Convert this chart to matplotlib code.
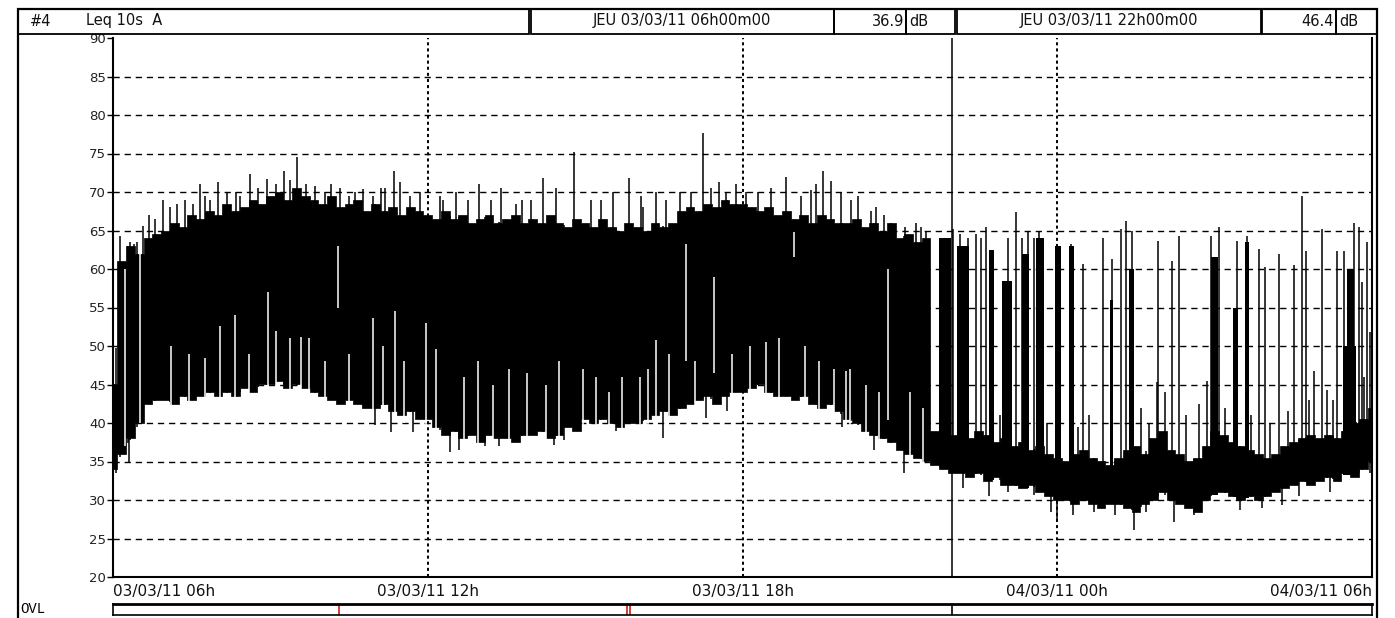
import numpy as np
import matplotlib.pyplot as plt
from matplotlib.patches import Rectangle

plt.rcParams['font.family'] = ['DejaVu Sans']
plt.rcParams['lines.scale_dashes'] = False

# band edges read every 10 min, starting 03/03/11 06h00 (dB)
band_high = [45, 61, 63, 62, 64, 64.5,
             65, 66, 65.5, 67, 66.5, 67.5,
             67, 68.5, 67.5, 68, 69, 68.5,
             69.5, 70, 69, 70.5, 69.5, 69,
             68.5, 69.5, 68, 68.5, 69, 67.5,
             68.5, 67.5, 68, 67, 68, 67.5,
             67, 66.5, 67.5, 66.5, 67, 66,
             66.5, 67, 66, 66.5, 67, 66,
             66.5, 66, 67, 66, 65.5, 66.5,
             66, 65.5, 66.5, 65.5, 65, 66,
             65.5, 65, 66, 65.5, 66, 67.5,
             68, 67.5, 68.5, 68, 69, 68.5,
             68.5, 68, 67.5, 68, 67, 67.5,
             66.5, 67, 66, 67, 66.5, 66,
             66, 66.5, 65.5, 66, 65, 66,
             64, 64.5, 63.5, 64,
             # night: quiet background
             39, 40, 38.5,
             39.5, 38, 39, 38.5, 37.5, 38,
             37, 37.5, 36.5, 37, 36, 35.5,
             35, 36, 36.5, 35.5, 35, 34.5,
             35.5, 36.5, 37, 36, 38, 39,
             36.5, 36, 35, 35.5, 37, 39,
             38.5, 37.5, 37, 36.5, 36, 35.5,
             36, 37, 37.5, 38, 38.5, 38,
             38.5, 38, 39, 40, 40.5, 42]
band_low = [34, 36, 38, 40, 42.5, 43,
            43, 42.5, 43.5, 43, 43.5, 44,
            43.5, 44, 43.5, 44.5, 44, 45,
            45, 45.5, 44.5, 45, 44.5, 44,
            43.5, 43, 42.5, 43, 42.5, 42,
            42, 42.5, 41.5, 41, 41.5, 40.5,
            40.5, 39.5, 38.5, 39, 38, 38.5,
            37.5, 38.5, 38, 38, 37.5, 38.5,
            38.5, 39, 38, 38.5, 39.5, 39,
            40.5, 40, 40.5, 40, 39.5, 40,
            40, 40.5, 41, 41.5, 41, 42,
            42.5, 43, 43.5, 42.5, 43.5, 44,
            44, 44.5, 45, 44, 43.5, 43.5,
            43, 43.5, 42.5, 42, 42.5, 41.5,
            40.5, 40, 39, 38.5, 38, 37.5,
            36.5, 36, 35.5, 35,
            34.5, 34, 33.5,
            33.5, 33, 33.5, 32.5, 33, 32,
            32, 31.5, 32, 31, 30.5, 30,
            30, 29.5, 30, 29.5, 29, 29.5,
            29.5, 29, 28.5, 29.5, 30, 31,
            30, 29.5, 29, 28.5, 30, 31,
            31, 30.5, 30, 30.5, 30, 30.5,
            31, 31.5, 32, 32.5, 32, 32.5,
            33, 32.5, 33.5, 33, 34, 35]

# isolated peaks above the band (hour after 06h00, dB)
spike_hours = [0.13, 0.28, 0.32, 0.40, 0.46, 0.57, 0.69, 0.80, 0.95, 1.09, 1.22, 1.37,
               1.53, 1.66, 1.76, 1.85, 2.00, 2.18, 2.35, 2.42, 2.62, 2.77, 2.94, 3.11,
               3.26, 3.38, 3.51, 3.67, 3.86, 4.05, 4.15, 4.33, 4.50, 4.62, 4.77, 4.95,
               5.10, 5.19, 5.35, 5.48, 5.67, 5.85, 6.24, 6.30, 6.53, 6.76, 6.97, 7.20,
               7.39, 7.68, 7.80, 7.96, 8.19, 8.44, 8.78, 9.11, 9.30, 9.53, 9.83, 10.06,
               10.10, 10.35, 10.54, 10.80, 11.02, 11.25, 11.40, 11.55, 11.69, 11.88,
               12.07, 12.30, 12.54, 12.83, 13.12, 13.31, 13.40, 13.54, 13.69, 13.88,
               14.07, 14.20, 14.45, 14.55, 14.70, 14.84, 15.10, 15.31, 15.40, 15.50,
               16.02, 16.15, 16.30, 16.45, 16.55, 16.65, 17.07, 17.22, 17.32, 17.44,
               17.55, 17.66, 18.27, 18.50, 18.88, 19.04, 19.21, 19.32, 19.42, 19.90,
               19.93, 20.18, 20.32, 20.85, 20.93, 21.08, 21.42, 21.61, 21.84, 21.96,
               22.22, 22.51, 22.66, 22.74, 22.89, 23.05, 23.14, 23.33, 23.47, 23.66,
               23.75, 23.81, 23.90, 23.96,
               16.90, 17.80, 18.40, 18.60, 19.60, 19.75, 20.05, 20.45, 20.70, 21.20,
               21.70, 22.05, 22.40, 22.80, 23.25, 23.55, 23.85]
spike_tops = [64.3, 63, 63.5, 63.2, 63.5, 65.6, 67, 66.5, 69, 68, 68.5, 69,
              68.5, 71, 69.5, 69, 71.3, 70, 70, 69.5, 72.3, 70.5, 71.7, 71,
              72.7, 71.5, 74.5, 71, 70.8, 70, 71, 70.5, 69.5, 70, 70.4, 69.5,
              70.5, 70.5, 72.7, 71.3, 69.5, 70, 69.5, 69, 70, 69, 71, 69,
              70.5, 68.5, 69, 69, 71.8, 70.5, 75.2, 69, 69, 70, 71.8, 69.5,
              68, 70, 69, 70, 70, 77.7, 70.5, 71.3, 70, 71,
              70, 70, 70.5, 72, 69.5, 70.2, 71, 72.7, 71.4, 70,
              69, 69.5, 67.5, 68, 67, 66, 65.5, 66, 65.5, 65,
              65.2, 64.5, 64, 64.5, 64, 65.4, 64, 67.4, 64, 65,
              64, 65, 63.2, 60.6, 64, 61.3, 65.2, 66.2, 65, 45.3,
              63.6, 61, 64.3, 45.4, 64.3, 65.4, 63.6, 64.3, 62.6, 60.2,
              62, 60.5, 69.5, 62.3, 46.7, 65.2, 44.3, 62.3, 62.3, 66,
              65.4, 58.3, 63.5, 51.8,
              41, 40, 39.5, 41, 42, 40, 44, 41, 42.5, 42,
              41, 40, 41.5, 43, 43, 47, 46]

# night-time bursts (dense blocks): start, end, top
cluster_start = [15.75, 16.08, 16.69, 16.94, 17.32, 17.60, 17.95, 18.23, 19.00, 19.36,
                 20.94, 21.35, 21.58, 23.45, 23.52]
cluster_end = [15.97, 16.31, 16.80, 17.13, 17.47, 17.74, 18.08, 18.31, 19.07, 19.47,
               21.06, 21.44, 21.65, 23.70, 23.66]
cluster_top = [64, 63, 62.5, 58.5, 62, 64, 63, 63, 56, 60,
               61.5, 55, 63.5, 50, 60]

# dips below the band
dip_hours = [0.05, 0.30, 5.00, 5.29, 5.71, 6.43, 6.60, 7.10, 7.35, 7.70, 8.40, 8.59,
             9.58, 10.48, 11.30, 11.70, 13.90, 14.50, 15.08,
             16.20, 16.70, 17.07, 17.55, 17.89, 17.99, 18.30, 18.70, 19.10, 19.47,
             19.70, 20.22, 20.60, 21.48, 21.90, 22.28, 22.60, 23.20, 23.70, 23.97]
dip_bottoms = [33.5, 35, 39.8, 38.8, 38.8, 36.2, 36.5, 37, 37, 37.5, 37.2, 37.8,
               38.9, 38.1, 40.7, 41.5, 39.5, 36.5, 33.5,
               31.5, 30.5, 31, 30.7, 28.5, 27.4, 28, 28.5, 28, 26.1,
               28.5, 27.2, 28, 28.7, 29, 29.4, 30.5, 31, 33, 33.5]

# quiet gaps inside the band: hour, bottom, top
white_hours = [0.23, 0.52, 2.04, 2.33, 2.96, 3.11, 3.38, 3.59, 3.74, 4.28, 4.96, 5.38,
               5.96, 6.15, 10.35, 10.92, 11.46, 12.98, 13.98, 14.78,
               1.10, 1.45, 1.75, 2.60, 4.05, 4.50, 5.15, 5.55, 6.70, 6.95, 7.25, 7.55,
               7.90, 8.25, 8.50, 8.95, 9.20, 9.45, 9.70, 10.05, 10.20, 10.60, 11.10,
               11.80, 12.15, 12.45, 12.70, 13.20, 13.45, 13.75, 14.05, 14.35, 14.60,
               15.20, 15.45]
white_bottoms = [37, 40, 43, 43, 44, 44, 44, 44, 44, 55, 41, 41,
                 39, 39, 40, 48, 46.5, 61.6, 39, 40.4,
                 42, 42, 42, 43, 42, 41, 41, 40, 37, 37, 37, 37,
                 37, 37, 38, 39, 39, 39, 39, 39, 39, 40, 41,
                 42, 43, 43, 43, 42, 41, 41, 39, 38, 37,
                 35, 34]
white_tops = [60, 62.5, 52.6, 54, 57, 52, 51, 51.2, 51, 63, 53.7, 54.5,
              53, 49.6, 50.8, 63.2, 59, 64.8, 46.7, 60,
              50, 49, 48.5, 49, 48, 49, 50, 48, 46, 48, 45, 47,
              46.5, 45, 48, 47, 46, 44, 46, 46, 47, 49, 48,
              49, 50, 50.5, 51, 50, 48, 47, 47, 45, 44,
              44, 42]

ovl_hours = [4.30, 9.79, 9.85]
cursor_hours = [0, 16]
cursor_labels = ['JEU 03/03/11 06h00m00', 'JEU 03/03/11 22h00m00']
cursor_values = ['36.9', '46.4']
tick_hours = [0, 6, 12, 18, 24]
tick_labels = ['03/03/11 06h', '03/03/11 12h', '03/03/11 18h',
               '04/03/11 00h', '04/03/11 06h']
y_ticks = list(range(20, 95, 5))

band_hours = np.arange(len(band_high)) / 6.0

W, H = 1395, 618
fig = plt.figure(figsize=(W / 100, H / 100), dpi=100, facecolor='white')


def box(x0, y0, x1, y1):
    """pixel box (top-left origin) -> figure fraction rect"""
    return [x0 / W, 1 - y1 / H, (x1 - x0) / W, (y1 - y0) / H]


def fpt(x, y):
    return x / W, 1 - y / H


# outer frame and header boxes
fig.add_artist(Rectangle(fpt(18, 640), (1377 - 18) / W, (640 - 9) / H, fill=False,
                         lw=1.6, ec='black', transform=fig.transFigure))
header = [(18, 529), (531, 834), (834, 906), (906, 955), (957, 1261), (1262, 1336),
          (1336, 1377)]
for x0, x1 in header:
    fig.add_artist(Rectangle(fpt(x0, 34), (x1 - x0) / W, 25 / H, fill=False,
                             lw=1.3, ec='black', transform=fig.transFigure))
hfont = dict(fontsize=10.5, va='center', color='#111111')
fig.text(*fpt(30, 21), '#4', ha='left', **hfont)
fig.text(*fpt(86, 21), 'Leq 10s  A', ha='left', **hfont)
fig.text(*fpt(682, 21), cursor_labels[0], ha='center', **hfont)
fig.text(*fpt(904, 21), cursor_values[0], ha='right', **hfont)
fig.text(*fpt(909, 21), 'dB', ha='left', **hfont)
fig.text(*fpt(1109, 21), cursor_labels[1], ha='center', **hfont)
fig.text(*fpt(1334, 21), cursor_values[1], ha='right', **hfont)
fig.text(*fpt(1339, 21), 'dB', ha='left', **hfont)

# main chart
ax = fig.add_axes(box(113, 38, 1372, 577))
ax.set_xlim(0, 24)
ax.set_ylim(20, 90)

for y in y_ticks[1:-1]:
    ax.axhline(y, color='black', lw=1.0, ls=(0, (4.5, 3.5)), zorder=1)
for h in tick_hours[1:-1]:
    ax.axvline(h, color='black', lw=1.4, ls=(0, (2.2, 2.2)), zorder=1)

ax.fill_between(band_hours, band_low, band_high, step='mid', color='black',
                lw=0.5, zorder=2)
cb = np.interp(cluster_start, band_hours, band_low)
ax.bar(cluster_start, np.array(cluster_top) - cb,
       width=np.array(cluster_end) - np.array(cluster_start), bottom=cb,
       align='edge', color='black', lw=0, zorder=2)
sb = np.interp(spike_hours, band_hours, band_low)
ax.vlines(spike_hours, sb, spike_tops, color='black', lw=1.1, zorder=2)
ax.vlines(white_hours, white_bottoms, white_tops, color='white', lw=1.1, zorder=3)
dt = np.interp(dip_hours, band_hours, band_high)
ax.vlines(dip_hours, dip_bottoms, dt, color='black', lw=1.1, zorder=4)

ax.axvline(cursor_hours[1], color='black', lw=1.1, zorder=5)

ax.set_yticks(y_ticks)
ax.set_yticklabels([str(v) for v in y_ticks], fontsize=9.5, color='#222222')
ax.tick_params(axis='y', length=4, width=1, pad=1, direction='out')
ax.set_xticks(tick_hours)
ax.set_xticklabels(tick_labels, fontsize=11, color='#111111')
ax.tick_params(axis='x', length=0, pad=5)
labels = ax.get_xticklabels()
labels[0].set_ha('left')
labels[-1].set_ha('right')

ax.spines['top'].set_visible(False)
for s in ('left', 'bottom', 'right'):
    ax.spines[s].set_linewidth(1.5)

# overload strip
ov = fig.add_axes(box(113, 604, 1372, 615))
ov.set_xlim(0, 24)
ov.set_ylim(0, 1)
ov.set_xticks([])
ov.set_yticks([])
ov.vlines(ovl_hours, 0, 1, color='#d01818', lw=1.2)
ov.axvline(cursor_hours[1], color='black', lw=1.2)
for s in ov.spines.values():
    s.set_linewidth(1.2)
ov.spines['top'].set_linewidth(2.0)
fig.text(*fpt(20, 609), 'OVL', family=['Liberation Mono', 'DejaVu Sans Mono'],
         fontsize=10, va='center', ha='left')

fig.savefig('out.png', dpi=100, facecolor='white')
